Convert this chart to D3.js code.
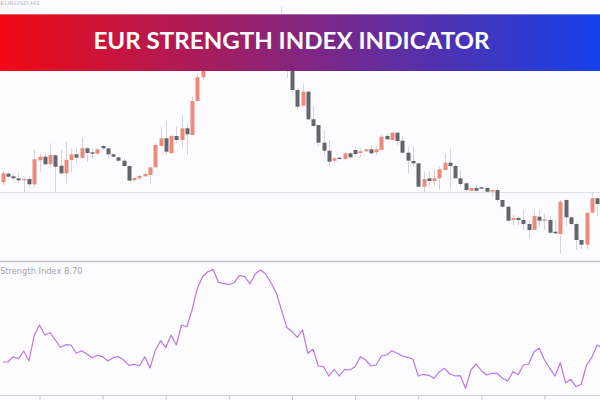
<!DOCTYPE html>
<html lang="en">
<head>
  <meta charset="UTF-8">
  <title>EUR Strength Index Indicator</title>
  <script src="https://d3js.org/d3.v7.min.js"></script>
</head>

<body style="margin:0">

<style>
  body { background: #fcfcfe; }
  svg { display: block; }
</style>

<div id="chart"></div>

<script>

// candle data (price level units), index 0 = first visible bar
var opens  = [77.7,86.3,83.7,81.7,79.7,81,75.7,99.7,103.3,96,104.7,94.3,86.7,100,105.7,102,111.7,107.7,106.3,114,
              111.7,105.7,102.7,99.3,94,79.7,81.7,83.7,85,92.7,114,121.7,106.7,124,120,131.7,125,159,182.7,200,
              215,222,216,228,234,230,224,232,238,233,240,242,235,240,230,200,170,154.3,168.3,140.7,
              135,117.3,109.3,99.3,102.3,101,106.7,110,107,108.7,110.7,107.7,110,124,120,127.3,119.3,107.3,99,96.7,
              73.3,81.7,79,81.7,90,97.3,94,81.7,76.7,69.3,72,72.7,72,68.3,70,60,53.3,40,42,40,
              36,30,43.3,39.3,40,28.3,26,60,42.7,36,20,15.3,47.3,61.7];
var highs  = [89,88,86.7,87.3,82,83.3,110.7,106.7,107.3,116.7,104.7,110,118.3,111.7,111.7,122.7,113.3,111.7,111.7,115,
              111.7,106.7,103.3,101.7,95,82.7,85,87.3,93.3,116.7,132.7,140,125,133.3,145,136.7,163.3,186.7,205,220,
              227,226,232,238,238,233,236,242,241,243,244,244,243,253.3,232,202,172,176.7,169,153.3,
              135,130,120,103.3,103,108.3,108.3,113.3,111.7,111.7,115,114,125,126.7,128.3,128.3,123.3,113.3,113.3,96.7,
              88.3,89,90,93.3,106.7,111.7,95,90,78.3,73,75,73.3,72.7,70.7,72.7,60,53.3,45,43.3,50,
              40,50,50,46.7,43.3,40,60,60.7,43.3,36.7,20.7,48,67.3,63.3];
var lows   = [75,82,80,76.7,68,72.7,72.7,88.3,95,93.3,68,85,76.7,88.3,96.7,101.7,98.3,101.7,105.7,110,
              101.7,102.3,97.3,92.7,79.3,79,80,83.3,76.7,92.3,114,105,106.7,116.7,111.7,105,125,158.3,180,197,
              210,212,214,225,226,220,222,229,230,231,236,232,231,227,181.7,168,150,153.3,140,133.3,
              113.3,103.3,93.3,96.7,100,100,101.7,103.3,103.3,107.7,105,105,110,120,120,115,106.7,86.7,93.3,72.7,
              68.3,74.3,74,70.7,90,71.7,81.7,73.3,68.3,69,68.3,70.7,68.3,63.3,58.3,51.7,39,35,35,30,
              21.7,30,33.3,30,26.7,25,6,33.3,35,10,10.7,10.7,46.7,44];
var closes = [86.7,83.3,81.7,79.7,81,75.7,100.7,103.3,95.7,105,93.3,86.7,100,105.7,102.3,111.7,107,106.3,110.7,111.7,
              105.7,103.3,99.3,94,79.3,82,84,86,92.7,115,121.7,108.3,124,120,131.7,125.7,159,182.7,200,215,
              222,216,228,234,230,224,232,238,233,240,242,235,240,230,198,170,153.3,168.3,140.7,134,
              117.3,109.3,98.3,101.7,101,106.7,102.7,106,108.7,110.7,106.7,110.7,123.3,120.7,127.3,119,107.3,99.3,96.7,73.3,
              81,79,81.7,90.7,97.3,94,81.7,76,70,72,69.3,71.3,68.3,70,60,53.3,39.3,42,40,36,
              30,44,39.3,40.7,27.3,26.7,58.3,42.7,36,20,15.3,47.3,61.7,56];

// strength index line, one value per bar (extra value past the last bar)
var strength = [3.40,3.40,3.93,3.73,4.50,3.50,6.10,7.10,6.10,6.33,5.60,4.87,5.13,5.10,4.27,4.53,4.20,3.83,4.07,3.93,
                3.50,3.83,3.93,3.60,3.07,3.17,3.00,3.93,2.80,4.53,5.53,4.83,6.10,5.10,7.10,6.93,8.60,10.77,11.93,12.43,
                12.67,11.37,11.27,11.13,11.33,12.07,11.93,11.20,12.20,12.60,12.20,11.33,10.33,8.60,6.87,6.43,5.87,6.60,4.27,4.67,
                3.00,2.93,2.00,2.67,2.00,2.67,2.60,2.93,3.93,3.60,3.00,3.10,4.00,4.10,4.53,4.27,4.00,3.87,3.67,2.00,
                2.17,2.07,1.77,2.43,2.77,2.20,2.00,2.03,0.77,2.60,3.20,2.53,2.10,2.27,2.27,1.77,1.50,2.43,2.13,3.10,
                3.20,4.43,4.77,3.60,2.77,2.00,3.33,1.33,1.67,0.93,1.20,3.10,3.87,5.10,4.80];

// bars where the time axis has a tick
var tickBars = [7, 19, 31, 43, 55, 67, 79, 91, 103];

var title = "EUR STRENGTH INDEX INDICATOR";
var indLabel = "Strength Index 8.70";

var width = 600, height = 400;
var candles = opens.map((o, i) => ({i: i, o: o, h: highs[i], l: lows[i], c: closes[i]}));

var svg = d3.select('#chart').append('svg')
  .attr("width", width)
  .attr("height", height)
  .style("background", "#fcfcfe");

var x = d3.scaleLinear().domain([0, 113]).range([2.7, 597.1]);
var y = d3.scaleLinear().domain([0, 260]).range([260, 0]);
var y2 = d3.scaleLinear().domain([0, 13.4]).range([396, 262]);

// tiny symbol caption in the top strip
svg.append("text")
  .attr("x", 0).attr("y", 4.6)
  .attr("font-family", "DejaVu Sans").attr("font-size", 5)
  .attr("textLength", 40).attr("lengthAdjust", "spacingAndGlyphs")
  .attr("fill", "#b4b4bc")
  .text("EURUSD,H1");

// price grid line
svg.append("line")
  .attr("x1", 0).attr("x2", width)
  .attr("y1", Math.round(y(68)) + 0.5).attr("y2", Math.round(y(68)) + 0.5)
  .attr("stroke", "#dedee6");

var bars = svg.append("g");

bars.selectAll("line.wick").data(candles).join("line")
  .attr("class", "wick")
  .attr("x1", d => Math.round(x(d.i)) + 0.5).attr("x2", d => Math.round(x(d.i)) + 0.5)
  .attr("y1", d => y(d.h)).attr("y2", d => y(d.l))
  .attr("stroke", "#d4d4de")
  .attr("stroke-width", 1);

bars.selectAll("rect").data(candles).join("rect")
  .attr("x", d => Math.round(x(d.i)) - 1.5)
  .attr("width", 4)
  .attr("y", d => y(Math.max(d.o, d.c)))
  .attr("height", d => Math.max(1.2, Math.abs(y(d.o) - y(d.c))))
  .attr("fill", d => d.c >= d.o ? "#ef8a7b" : "#62656a");

// pane separator
svg.append("line")
  .attr("x1", 0).attr("x2", width).attr("y1", 261.5).attr("y2", 261.5)
  .attr("stroke", "#c4c4ca").attr("stroke-width", 1.5);

svg.append("text")
  .attr("x", 0).attr("y", 273.5)
  .attr("font-family", "DejaVu Sans").attr("font-size", 8.3)
  .attr("fill", "#a4a4ac")
  .text(indLabel);

var line = d3.line()
  .x((d, i) => x(i))
  .y(d => y2(d));

svg.append("path")
  .datum(strength)
  .attr("fill", "none")
  .attr("stroke", "#b878e6")
  .attr("stroke-width", 1.2)
  .attr("stroke-linejoin", "round")
  .attr("d", line);

// bottom time axis
var axis = svg.append("g")
  .attr("transform", "translate(0,395.5)")
  .call(d3.axisBottom(x).tickValues(tickBars).tickFormat("").tickSize(4).tickSizeOuter(0));
axis.select(".domain").remove();
axis.selectAll(".tick line").attr("stroke", "#c4c4cc");
svg.append("line")
  .attr("x1", 0).attr("x2", width).attr("y1", 395.5).attr("y2", 395.5)
  .attr("stroke", "#d0d0d8");

// title banner
var grad = svg.append("defs").append("linearGradient")
  .attr("id", "band").attr("x1", "0%").attr("x2", "100%");
grad.append("stop").attr("offset", "0%").attr("stop-color", "#f20a14");
grad.append("stop").attr("offset", "100%").attr("stop-color", "#1440ea");

svg.append("rect")
  .attr("x", 0).attr("y", 14).attr("width", width).attr("height", 57)
  .attr("fill", "url(#band)");
svg.append("line")
  .attr("x1", 0).attr("x2", width).attr("y1", 14.5).attr("y2", 14.5)
  .attr("stroke", "#ffffff").attr("stroke-opacity", 0.35);

svg.append("text")
  .attr("x", 291.5).attr("y", 48.5)
  .attr("text-anchor", "middle")
  .attr("font-family", "Lato, 'Open Sans', sans-serif")
  .attr("font-weight", 700)
  .attr("font-size", 23)
  .attr("textLength", 396)
  .attr("lengthAdjust", "spacingAndGlyphs")
  .attr("fill", "#ffffff")
  .text(title);

</script>

</body>
</html>
